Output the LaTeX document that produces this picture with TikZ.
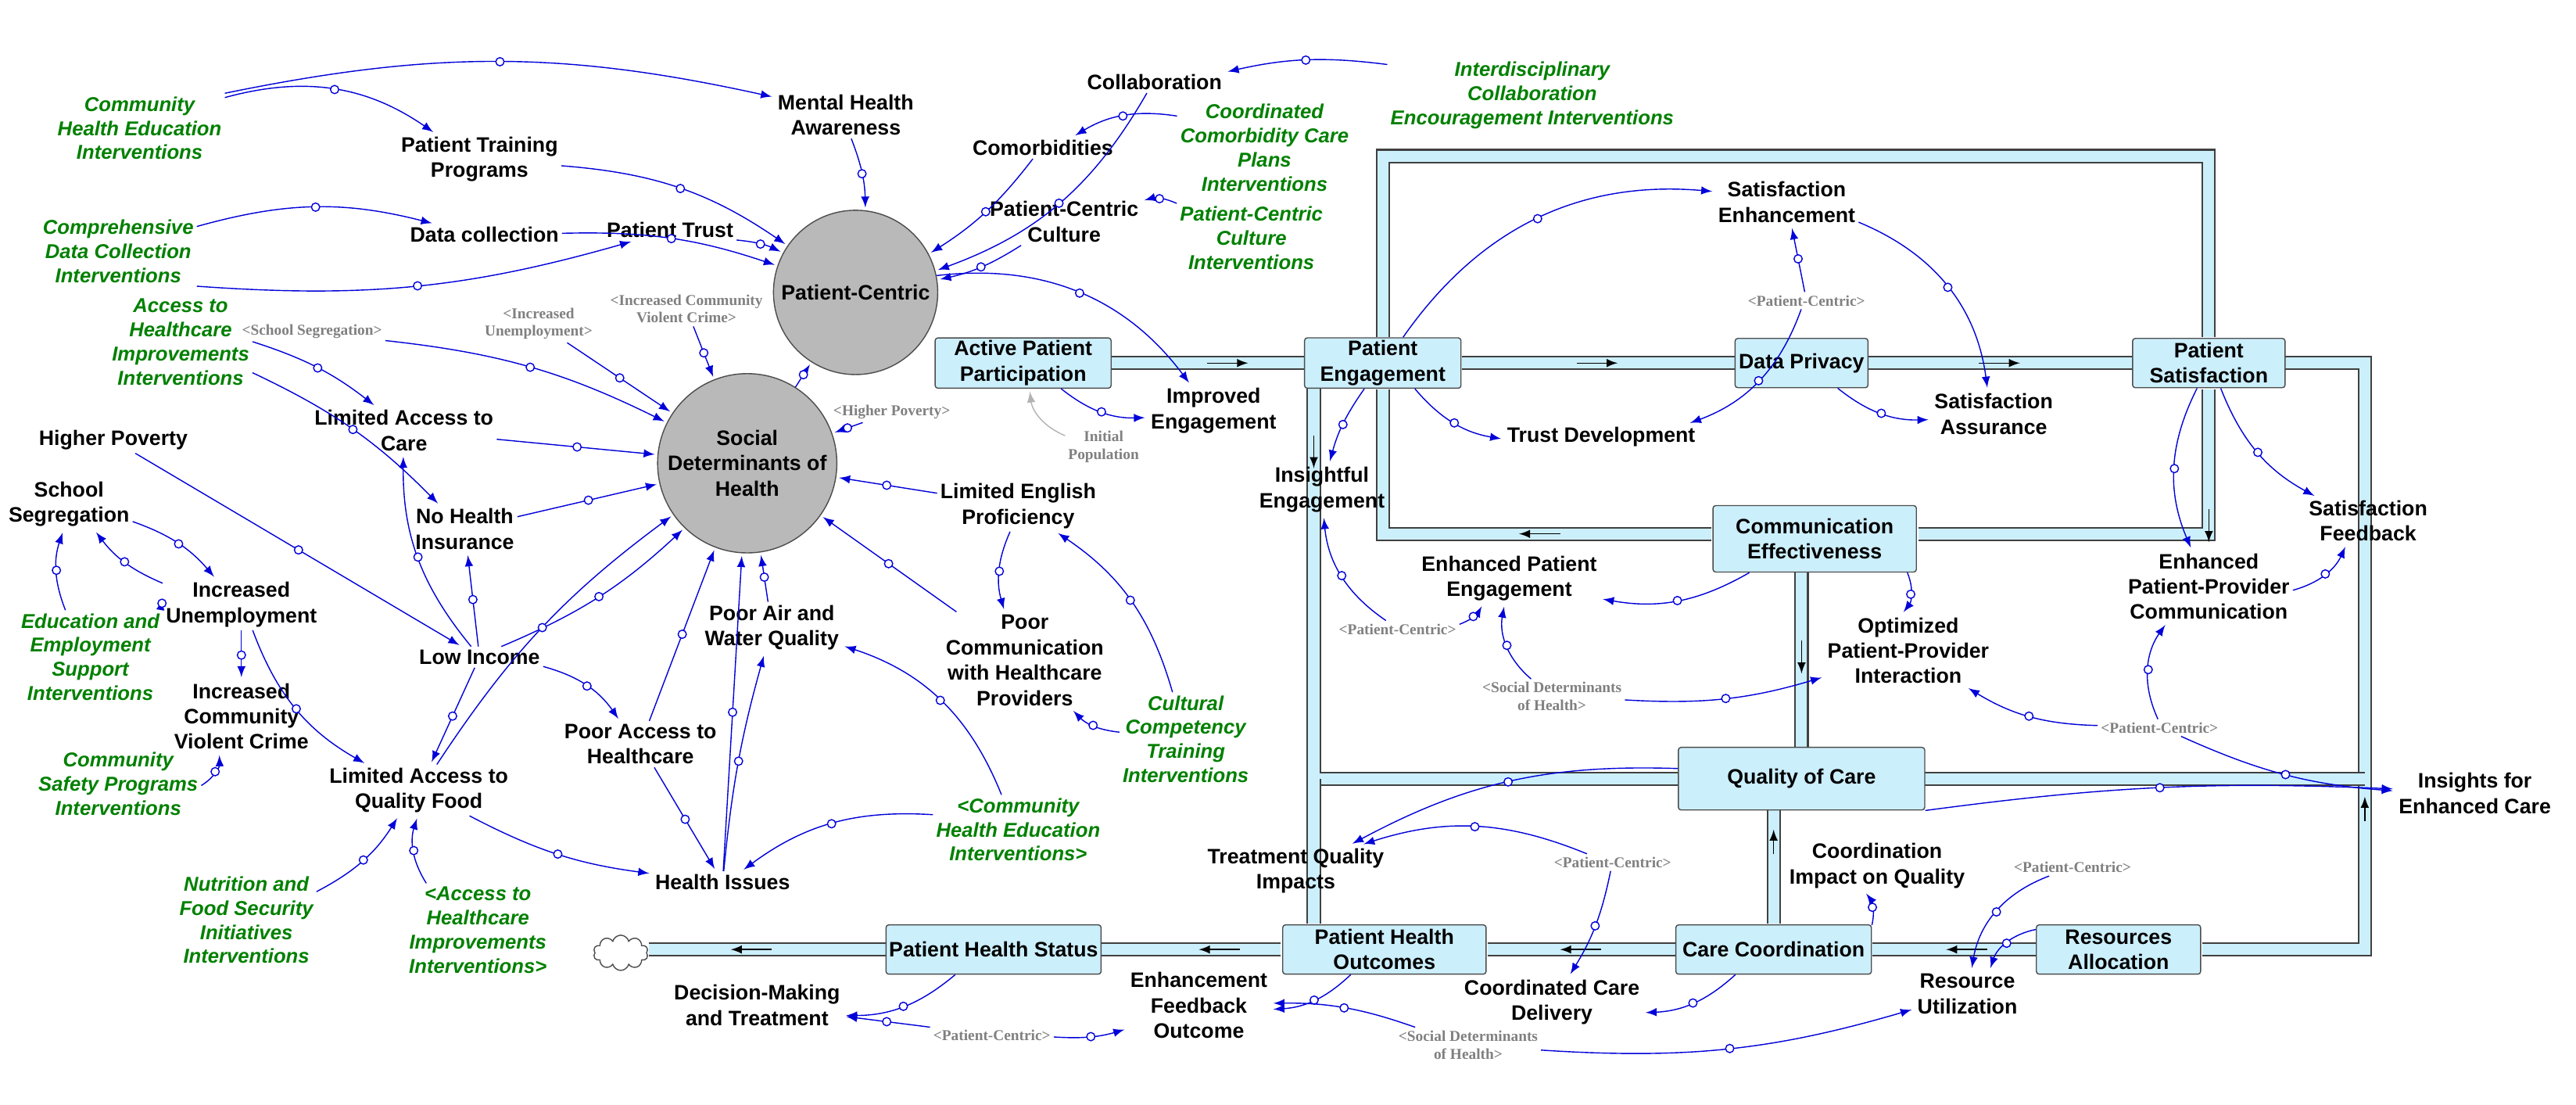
\documentclass[tikz,border=0pt]{standalone}
\usepackage{fontspec}
\setmainfont{Liberation Sans}
\newfontfamily\shadowfont{Liberation Serif}
\usetikzlibrary{arrows,calc,positioning,shapes}
\tikzset{
sd/.style={x=0.021cm,y=-0.021cm,>=latex,font=\fontsize{7.6}{9.2}\selectfont\bfseries},
var/.style={align=center,inner sep=1pt},
iv/.style={var,text=green!50!black,font=\fontsize{7.3}{8.8}\selectfont\bfseries\itshape},
shadow/.style={var,text=gray,font=\fontsize{5.5}{6.5}\selectfont\shadowfont\bfseries},
aux/.style={circle,draw=black!70,fill=gray!55,minimum size=2.1cm,align=center,inner sep=1pt},
stock/.style={draw=black!70,fill=cyan!20,rounded corners=1pt,align=center,inner sep=1pt,minimum height=0.63cm,minimum width=#1},
stock/.default={2cm},
pipe/.style={draw=black!75,double=cyan!20,double distance=4pt,line width=0.6pt},
flowtip/.style={->,black,thin,shorten <=0pt},
link/.style={->,blue!85!black,thin,shorten >=1pt},
dot/.style={circle,draw=blue!85!black,fill=white,inner sep=0pt,minimum size=3pt},
}
\begin{document}
\begin{tikzpicture}[sd]
\useasboundingbox (0,0) rectangle (1568.6,672.5);

% pipes
\draw[pipe] (842,205) -- (842,95) -- (1345,95) -- (1345,205);
\draw[pipe] (676,221) -- (795,221);
\draw[pipe] (890,221) -- (1057,221);
\draw[pipe] (1137,221) -- (1299,221);
\draw[pipe] (1391,221) -- (1440,221) -- (1440,578) -- (1341,578);
\draw[pipe] (842,237) -- (842,325) -- (1042,325);
\draw[pipe] (1168,325) -- (1345,325) -- (1345,237);
\draw[pipe] (800,221) -- (800,474) -- (1022,474);
\draw[pipe] (1172,474) -- (1440,474);
\draw[pipe] (800,474) -- (800,562);
\draw[pipe] (1097,348) -- (1097,455);
\draw[pipe] (1080,493) -- (1080,562);
\draw[pipe] (1240,578) -- (1140,578);
\draw[pipe] (1020,578) -- (906,578);
\draw[pipe] (780,578) -- (670,578);
\draw[pipe] (540,578) -- (395,578);

% flow direction marks
\draw[flowtip] (735,221) -- (760,221);
\draw[flowtip] (960,221) -- (985,221);
\draw[flowtip] (1205,221) -- (1230,221);
\draw[flowtip] (950,325) -- (925,325);
\draw[flowtip] (1345,310) -- (1345,330);
\draw[flowtip] (800,265) -- (800,285);
\draw[flowtip] (1097,390) -- (1097,410);
\draw[flowtip] (1080,520) -- (1080,505);
\draw[flowtip] (1210,578) -- (1185,578);
\draw[flowtip] (975,578) -- (950,578);
\draw[flowtip] (755,578) -- (730,578);
\draw[flowtip] (470,578) -- (445,578);
\draw[flowtip] (1440,500) -- (1440,485);

% stocks
\node[stock=2.25cm] (app) at (623,221) {Active Patient\\Participation};
\node[stock=2cm] (pe) at (842,221) {Patient\\Engagement};
\node[stock=1.7cm] (dp) at (1097,221) {Data Privacy};
\node[stock=1.95cm] (ps) at (1345,221) {Patient\\Satisfaction};
\node[stock=2.6cm,minimum height=0.85cm] (ce) at (1105,328) {Communication\\Effectiveness};
\node[stock=3.15cm,minimum height=0.8cm] (qoc) at (1097,474) {Quality of Care};
\node[stock=2.75cm] (phs) at (605,578) {Patient Health Status};
\node[stock=2.6cm] (pho) at (843,578) {Patient Health\\Outcomes};
\node[stock=2.5cm] (cc) at (1080,578) {Care Coordination};
\node[stock=2.1cm] (ra) at (1290,578) {Resources\\Allocation};
\node[cloud,draw=black!70,aspect=2,minimum width=0.7cm,minimum height=0.45cm,inner sep=0pt] (cloud) at (378,580) {};

% converters
\node[aux] (pc) at (521,178) {Patient-Centric};
\node[aux,minimum size=2.2cm] (sdh) at (455,282) {Social\\Determinants of\\Health};

% variables
\node[var] (collab) at (703,50) {Collaboration};
\node[var] (mha) at (515,70) {Mental Health\\Awareness};
\node[var] (comorb) at (635,90) {Comorbidities};
\node[var] (ptp) at (292,97) {Patient Training\\Programs};
\node[var] (datac) at (295,143) {Data collection};
\node[var] (ptrust) at (408,140) {Patient Trust};
\node[var] (pcc) at (648,135) {Patient-Centric\\Culture};
\node[var] (se) at (1088,123) {Satisfaction\\Enhancement};
\node[var] (td) at (975,266) {Trust Development};
\node[var] (sa) at (1214,252) {Satisfaction\\Assurance};
\node[var] (ie) at (739,250) {Improved\\Engagement};
\node[var] (lac) at (246,262) {Limited Access to\\Care};
\node[var] (hp) at (69,268) {Higher Poverty};
\node[var] (ss) at (42,307) {School\\Segregation};
\node[var] (nhi) at (283,322) {No Health\\Insurance};
\node[var] (lep) at (620,308) {Limited English\\Proficiency};
\node[var] (ine) at (805,298) {Insightful\\Engagement};
\node[var] (sf) at (1442,317) {Satisfaction\\Feedback};
\node[var] (iu) at (147,368) {Increased\\Unemployment};
\node[var] (li) at (292,400) {Low Income};
\node[var] (epe) at (919,352) {Enhanced Patient\\Engagement};
\node[var] (paw) at (470,382) {Poor Air and\\Water Quality};
\node[var] (pcom) at (624,402) {Poor\\Communication\\with Healthcare\\Providers};
\node[var] (oppi) at (1162,396) {Optimized\\Patient-Provider\\Interaction};
\node[var] (eppc) at (1345,357) {Enhanced\\Patient-Provider\\Communication};
\node[var] (icvc) at (147,436) {Increased\\Community\\Violent Crime};
\node[var] (pah) at (390,453) {Poor Access to\\Healthcare};
\node[var] (laqf) at (255,481) {Limited Access to\\Quality Food};
\node[var] (iec) at (1507,483) {Insights for\\Enhanced Care};
\node[var] (hi) at (440,537) {Health Issues};
\node[var] (tqi) at (789,530) {Treatment Quality\\Impacts};
\node[var] (ciq) at (1143,527) {Coordination\\Impact on Quality};
\node[var] (dmt) at (461,612) {Decision-Making\\and Treatment};
\node[var] (efo) at (730,612) {Enhancement\\Feedback\\Outcome};
\node[var] (ccd) at (945,610) {Coordinated Care\\Delivery};
\node[var] (ru) at (1198,605) {Resource\\Utilization};

% interventions
\node[iv] (chei) at (85,78) {Community\\Health Education\\Interventions};
\node[iv] (cdci) at (72,153) {Comprehensive\\Data Collection\\Interventions};
\node[iv] (icei) at (933,58) {Interdisciplinary\\Collaboration\\Encouragement Interventions};
\node[iv] (ccpi) at (770,90) {Coordinated\\Comorbidity Care\\Plans\\Interventions};
\node[iv] (pcci) at (762,145) {Patient-Centric\\Culture\\Interventions};
\node[iv] (ahii) at (110,208) {Access to\\Healthcare\\Improvements\\Interventions};
\node[iv] (eesi) at (55,400) {Education and\\Employment\\Support\\Interventions};
\node[iv] (cspi) at (72,477) {Community\\Safety Programs\\Interventions};
\node[iv] (ccti) at (722,450) {Cultural\\Competency\\Training\\Interventions};
\node[iv] (nfsi) at (150,560) {Nutrition and\\Food Security\\Initiatives\\Interventions};
\node[iv] (ahis) at (291,566) {<Access to\\Healthcare\\Improvements\\Interventions>};
\node[iv] (cheis) at (620,505) {<Community\\Health Education\\Interventions>};

% shadows
\node[shadow] (pc1) at (1100,183) {<Patient-Centric>};
\node[shadow] (ipop) at (672,272) {Initial\\Population};
\node[shadow] (hps) at (543,251) {<Higher Poverty>};
\node[shadow] (icvcs) at (418,188) {<Increased Community\\Violent Crime>};
\node[shadow] (ius) at (328,197) {<Increased\\Unemployment>};
\node[shadow] (sss) at (190,202) {<School Segregation>};
\node[shadow] (pc2) at (851,383) {<Patient-Centric>};
\node[shadow] (sdh1) at (945,424) {<Social Determinants\\of Health>};
\node[shadow] (pc3) at (1315,443) {<Patient-Centric>};
\node[shadow] (pc4) at (982,525) {<Patient-Centric>};
\node[shadow] (pc5) at (1262,528) {<Patient-Centric>};
\node[shadow] (pc6) at (604,630) {<Patient-Centric>};
\node[shadow] (sdh2) at (894,636) {<Social Determinants\\of Health>};

% links
\path[link]
    (chei) edge[bend left=25] node[dot]{} (ptp)
    (chei.north east) edge[bend left=12] node[dot]{} (mha)
    (cdci) edge[bend left=15] node[dot]{} (datac)
    (cdci.south east) edge[bend right=10] node[dot]{} (ptrust)
    (icei) edge[bend right=10] node[dot]{} (collab)
    (ccpi) edge[bend right=20] node[dot]{} (comorb)
    (pcci) edge[bend right=20] node[dot]{} (pcc)
    (mha) edge[bend left=10] node[dot]{} (pc)
    (comorb) edge[bend left=10] node[dot]{} (pc)
    (collab) edge[bend left=20] node[dot]{} (pc)
    (pcc) edge[bend left=10] node[dot]{} (pc)
    (ptp) edge[bend left=15] node[dot]{} (pc)
    (datac) edge[bend left=10] node[dot]{} (pc)
    (ptrust) edge[bend left=10] node[dot]{} (pc)
    (sdh) edge node[dot]{} (pc)
    (pc) edge[bend left=30] node[dot]{} (ie)
    (ipop) edge[bend left=30,gray!60] (app)
    (app) edge[bend right=20] node[dot]{} (ie)
    (lac) edge node[dot]{} (sdh)
    (nhi) edge node[dot]{} (sdh)
    (li) edge[bend right=10] node[dot]{} (sdh)
    (laqf) edge[bend left=10] node[dot]{} (sdh)
    (pah) edge node[dot]{} (sdh)
    (paw) edge node[dot]{} (sdh)
    (hi) edge node[dot]{} (sdh)
    (pcom) edge node[dot]{} (sdh)
    (lep) edge node[dot]{} (sdh)
    (hps) edge node[dot]{} (sdh)
    (icvcs) edge node[dot]{} (sdh)
    (ius) edge node[dot]{} (sdh)
    (sss) edge[bend left=10] node[dot]{} (sdh)
    (ahii) edge[bend left=10] node[dot]{} (nhi)
    (ahii.east) edge[bend left=10] node[dot]{} (lac)
    (hp) edge node[dot]{} (li)
    (ss) edge[bend left=15] node[dot]{} (iu)
    (iu) edge[bend left=15] node[dot]{} (ss)
    (eesi) edge[bend left=20] node[dot]{} (ss)
    (eesi.north east) edge[bend left=10] node[dot]{} (iu)
    (iu) edge node[dot]{} (icvc)
    (iu) edge[bend right=20] node[dot]{} (laqf)
    (cspi) edge[bend right=30] node[dot]{} (icvc)
    (li) edge node[dot]{} (nhi)
    (li) edge[bend left=20] node[dot]{} (lac)
    (li) edge[bend left=20] node[dot]{} (pah)
    (li) edge node[dot]{} (laqf)
    (nfsi) edge[bend right=15] node[dot]{} (laqf)
    (ahis) edge[bend left=25] node[dot]{} (laqf)
    (laqf) edge[bend right=10] node[dot]{} (hi)
    (pah) edge node[dot]{} (hi)
    (hi) edge[bend left=5] node[dot]{} (paw)
    (cheis) edge[bend right=20] node[dot]{} (hi)
    (cheis) edge[bend right=25] node[dot]{} (paw)
    (lep) edge[bend right=20] node[dot]{} (pcom)
    (ccti) edge[bend left=20] node[dot]{} (pcom)
    (ccti) edge[bend right=20] node[dot]{} (lep)
    (pe) edge[bend left=30] node[dot]{} (se)
    (pe) edge[bend right=20] node[dot]{} (td)
    (pe) edge[bend right=10] node[dot]{} (ine)
    (pc1) edge[bend left=25] node[dot]{} (td)
    (pc1) edge node[dot]{} (se)
    (se) edge[bend left=30] node[dot]{} (sa)
    (dp) edge[bend right=20] node[dot]{} (sa)
    (ps) edge[bend right=20] node[dot]{} (sf)
    (ps) edge[bend right=25] node[dot]{} (eppc)
    (eppc) edge[bend right=25] node[dot]{} (sf)
    (ce) edge[bend left=20] node[dot]{} (epe)
    (ce) edge[bend left=30] node[dot]{} (oppi)
    (pc2) edge[bend left=25] node[dot]{} (ine)
    (pc2) edge[bend right=20] node[dot]{} (epe)
    (sdh1) edge[bend right=10] node[dot]{} (oppi)
    (sdh1) edge[bend left=30] node[dot]{} (epe)
    (pc3) edge[bend left=15] node[dot]{} (oppi)
    (pc3) edge[bend right=10] node[dot]{} (iec)
    (pc3) edge[bend left=30] node[dot]{} (eppc)
    (qoc) edge[bend right=15] node[dot]{} (tqi)
    (qoc.south east) edge[bend left=5] node[dot]{} (iec)
    (pc4) edge[bend right=20] node[dot]{} (tqi)
    (pc4) edge[bend left=10] node[dot]{} (ccd)
    (pc5) edge[bend right=30] node[dot]{} (ru)
    (cc) edge[bend right=25] node[dot]{} (ciq)
    (cc) edge[bend left=20] node[dot]{} (ccd)
    (ra) edge[bend right=30] node[dot]{} (ru)
    (pho) edge[bend left=20] node[dot]{} (efo)
    (phs) edge[bend left=20] node[dot]{} (dmt)
    (pc6) edge node[dot]{} (dmt)
    (pc6) edge[bend right=10] node[dot]{} (efo)
    (sdh2) edge[bend right=10] node[dot]{} (efo)
    (sdh2) edge[bend right=10] node[dot]{} (ru)
;
\end{tikzpicture}
\end{document}
